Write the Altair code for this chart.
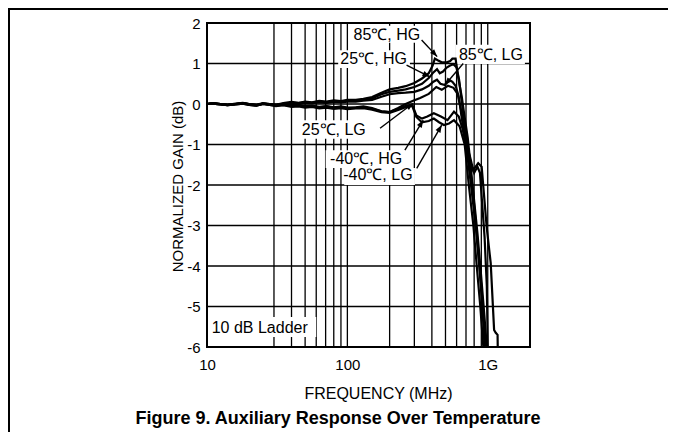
import math
import altair as alt
import pandas as pd

# ---------------- data ----------------
SERIES = ["85℃, HG", "25℃, HG", "85℃, LG", "25℃, LG", "-40℃, HG", "-40℃, LG"]

LOW_F = [10, 11, 12.5, 14, 16, 18, 20, 22.5, 25, 28, 31, 35, 40, 45, 50, 56, 63, 71, 80, 90, 100, 115, 130]

low_85hg = [0.0, 0.02, 0.0, -0.02, 0.01, 0.03, 0.0, -0.02, 0.02, 0.0, -0.02, 0.02, 0.05, 0.03, 0.06, 0.04, 0.08, 0.06, 0.09, 0.07, 0.1, 0.1, 0.13]
low_25hg = [0.0, 0.01, -0.01, -0.03, 0.0, 0.02, -0.01, -0.03, 0.01, -0.01, -0.03, 0.01, 0.03, 0.02, 0.04, 0.03, 0.06, 0.04, 0.07, 0.05, 0.08, 0.08, 0.11]
low_85lg = [0.0, 0.02, 0.0, -0.02, 0.0, 0.02, 0.0, -0.03, 0.01, 0.0, -0.02, 0.0, 0.02, 0.01, 0.03, 0.02, 0.04, 0.03, 0.05, 0.04, 0.06, 0.06, 0.08]
low_25lg = [0.0, 0.01, -0.01, -0.03, -0.01, 0.01, -0.02, -0.04, 0.0, -0.02, -0.04, -0.02, -0.05, -0.04, -0.07, -0.05, -0.08, -0.06, -0.09, -0.07, -0.1, -0.09, -0.08]
low_m40hg = [0.0, 0.02, 0.0, -0.02, 0.0, 0.02, -0.01, -0.03, 0.01, -0.01, -0.03, -0.01, -0.03, -0.02, -0.05, -0.04, -0.07, -0.05, -0.08, -0.06, -0.09, -0.08, -0.06]
low_m40lg = [0.0, 0.01, -0.01, -0.03, -0.01, 0.01, -0.02, -0.04, 0.0, -0.02, -0.05, -0.03, -0.07, -0.06, -0.09, -0.07, -0.11, -0.09, -0.12, -0.1, -0.13, -0.11, -0.1]

hf_85hg = [150, 175, 200, 230, 260, 300, 340, 380, 405, 420, 440, 470, 510, 540, 560, 590, 609, 654, 685, 720, 760, 800, 850, 900, 945, 965]
hg_85hg = [0.17, 0.28, 0.36, 0.4, 0.44, 0.52, 0.63, 0.76, 0.95, 1.12, 1.08, 1.03, 1.03, 1.06, 1.12, 1.12, 0.76, 0.16, -0.33, -0.83, -1.6, -2.5, -3.5, -4.5, -5.5, -6.0]

hf_25hg = [150, 175, 200, 230, 260, 300, 340, 380, 410, 435, 455, 480, 510, 540, 570, 600, 625, 650, 690, 730, 790, 845, 895, 945, 985]
hg_25hg = [0.14, 0.24, 0.3, 0.33, 0.36, 0.42, 0.5, 0.64, 0.78, 0.86, 0.76, 0.8, 0.9, 0.95, 0.98, 0.9, 0.6, 0.1, -0.6, -1.3, -2.2, -3.2, -4.2, -5.2, -6.0]

hf_85lg = [150, 175, 200, 230, 260, 300, 340, 380, 410, 435, 460, 495, 530, 560, 590, 620, 650, 690, 747, 788, 855, 905, 930, 982, 1050, 1110, 1140, 1175, 1178]
hg_85lg = [0.1, 0.18, 0.24, 0.27, 0.28, 0.3, 0.36, 0.45, 0.55, 0.6, 0.5, 0.47, 0.6, 0.55, 0.45, 0.2, -0.3, -0.9, -1.3, -1.63, -1.46, -1.55, -2.04, -3.03, -3.93, -5.58, -5.65, -5.7, -6.0]

hf_25lg = [150, 175, 200, 230, 260, 294, 330, 380, 430, 470, 520, 570, 610, 650, 700, 760, 800, 845, 880, 910, 950, 985, 1000]
hg_25lg = [-0.12, -0.18, -0.2, -0.1, 0.0, 0.08, 0.15, 0.25, 0.42, 0.35, 0.45, 0.4, 0.25, -0.2, -0.9, -1.5, -1.7, -1.55, -1.7, -2.4, -3.3, -4.5, -6.0]

hf_m40hg = [150, 175, 200, 230, 260, 290, 310, 340, 371, 413, 464, 517, 575, 622, 660, 700, 760, 820, 870, 915, 950]
hg_m40hg = [-0.1, -0.18, -0.2, -0.12, -0.05, -0.02, -0.28, -0.36, -0.31, -0.23, -0.31, -0.4, -0.19, -0.31, -0.6, -1.0, -2.0, -3.0, -4.0, -5.0, -6.0]

hf_m40lg = [150, 175, 200, 230, 260, 290, 310, 340, 380, 413, 450, 487, 530, 575, 630, 685, 733, 790, 835, 885, 930]
hg_m40lg = [-0.14, -0.2, -0.22, -0.15, -0.08, -0.05, -0.32, -0.45, -0.42, -0.36, -0.45, -0.52, -0.48, -0.4, -0.55, -1.0, -2.0, -3.0, -4.0, -5.0, -6.0]

# grid lines and ticks
V_GRID = [30, 40, 50, 60, 70, 80, 90, 100, 200, 300, 400, 500, 600, 700, 800, 900, 1000]
H_GRID = [-5, -4, -3, -2, -1, 0, 1]
X_TICKS = [10, 100, 1000]
Y_TICKS = [-6, -5, -4, -3, -2, -1, 0, 1, 2]

# annotation labels (data units)
LABELS = ["85℃, HG", "25℃, HG", "85℃, LG", "25℃, LG", "-40℃, HG", "-40℃, LG"]
LABEL_F = [191, 154, 1054, 80, 136, 165]
LABEL_G = [1.70, 1.10, 1.22, -0.63, -1.35, -1.765]
BOX_F1 = [104, 86, 594, 46, 70, 95]
BOX_F2 = [345, 279, 1840, 140, 257, 303]
BOX_G1 = [1.93, 1.33, 1.46, -0.40, -1.14, -1.58]
BOX_G2 = [1.51, 0.89, 0.99, -0.86, -1.58, -2.00]
ARROW_F1 = [338, 264, 669, 171, 257, 312]
ARROW_G1 = [1.58, 0.96, 1.0, -0.6, -1.14, -1.59]
ARROW_F2 = [436, 387, 495, 294, 347, 470]
ARROW_G2 = [1.17, 0.67, 0.47, 0.02, -0.40, -0.52]

NOTE = "10 dB Ladder"
NOTE_F, NOTE_G = 10.8, -5.52
NOTE_BOX = (10.3, 60, -5.26, -5.75)

# ---------------- layout ----------------
W, H = 323, 324
FONT = "Liberation Sans"

low = [low_85hg, low_25hg, low_85lg, low_25lg, low_m40hg, low_m40lg]
hfs = [hf_85hg, hf_25hg, hf_85lg, hf_25lg, hf_m40hg, hf_m40lg]
hgs = [hg_85hg, hg_25hg, hg_85lg, hg_25lg, hg_m40hg, hg_m40lg]

rows = []
for name, lg, hf, hg in zip(SERIES, low, hfs, hgs):
    fs = LOW_F + hf
    gs = lg + hg
    for i, (f, g) in enumerate(zip(fs, gs)):
        rows.append({"series": name, "freq": f, "gain": g, "idx": i})
curves = pd.DataFrame(rows)

xs = alt.Scale(type="log", domain=[10, 2000])
ys = alt.Scale(domain=[-6, 2])

def px(f):
    return W * math.log10(f / 10) / math.log10(200)

def py(g):
    return H * (2 - g) / 8

angles = []
for f1, g1, f2, g2 in zip(ARROW_F1, ARROW_G1, ARROW_F2, ARROW_G2):
    dx = px(f2) - px(f1)
    dy = py(g2) - py(g1)
    angles.append(math.degrees(math.atan2(dx, -dy)) % 360)

arrows = pd.DataFrame({"f1": ARROW_F1, "g1": ARROW_G1, "f2": ARROW_F2, "g2": ARROW_G2, "ang": angles})
boxes = pd.DataFrame({"f1": BOX_F1 + [NOTE_BOX[0]], "f2": BOX_F2 + [NOTE_BOX[1]],
                      "g1": BOX_G1 + [NOTE_BOX[2]], "g2": BOX_G2 + [NOTE_BOX[3]]})
labels = pd.DataFrame({"t": LABELS, "f": LABEL_F, "g": LABEL_G})
note = pd.DataFrame({"t": [NOTE], "f": [NOTE_F], "g": [NOTE_G]})

base_x_axis = alt.Axis(values=X_TICKS, labelExpr="datum.value == 1000 ? '1G' : '' + datum.value",
                       grid=False, ticks=False, domain=False, labelFlush=False,
                       labelFontSize=15, labelColor="black", labelPadding=10,
                       title="FREQUENCY (MHz)", titleFontSize=16, titleFontWeight="normal",
                       titleColor="black", titleX=171, titleY=51, titleBaseline="alphabetic",
                       titleAlign="center")
base_y_axis = alt.Axis(values=Y_TICKS, labelExpr="'' + datum.value",
                       grid=False, ticks=False, domain=False, labelFlush=False,
                       labelFontSize=15, labelColor="black", labelPadding=7,
                       title="NORMALIZED GAIN (dB)", titleFontSize=15, titleFontWeight="normal",
                       titleColor="black", titleX=-25, titleY=163, titleAngle=270,
                       titleBaseline="alphabetic", titleAlign="center")

vgrid = alt.Chart(pd.DataFrame({"f": V_GRID})).mark_rule(color="black", strokeWidth=1.3).encode(
    x=alt.X("f:Q", scale=xs, axis=base_x_axis))
hgrid = alt.Chart(pd.DataFrame({"g": H_GRID})).mark_rule(color="black", strokeWidth=1.3).encode(
    y=alt.Y("g:Q", scale=ys, axis=base_y_axis))

box_layer = alt.Chart(boxes).mark_rect(fill="white").encode(
    x=alt.X("f1:Q", scale=xs), x2="f2:Q", y=alt.Y("g1:Q", scale=ys), y2="g2:Q")

lines = alt.Chart(curves).mark_line(color="black", strokeWidth=2.2, clip=True).encode(
    x=alt.X("freq:Q", scale=xs), y=alt.Y("gain:Q", scale=ys),
    detail="series:N", order="idx:Q")

arrow_lines = alt.Chart(arrows).mark_rule(color="black", strokeWidth=1.4).encode(
    x=alt.X("f1:Q", scale=xs), y=alt.Y("g1:Q", scale=ys), x2="f2:Q", y2="g2:Q")
arrow_heads = alt.Chart(arrows).mark_point(
    shape="M0,0 L-0.38,1 L0.38,1 Z", filled=True, color="black", size=220, opacity=1).encode(
    x=alt.X("f2:Q", scale=xs), y=alt.Y("g2:Q", scale=ys), angle=alt.Angle("ang:Q", scale=None))

label_text = alt.Chart(labels).mark_text(font=FONT, fontSize=16, color="black",
                                         align="center", baseline="middle").encode(
    x=alt.X("f:Q", scale=xs), y=alt.Y("g:Q", scale=ys), text="t:N")
note_text = alt.Chart(note).mark_text(font=FONT, fontSize=16, color="black",
                                      align="left", baseline="middle").encode(
    x=alt.X("f:Q", scale=xs), y=alt.Y("g:Q", scale=ys), text="t:N")

one = pd.DataFrame({"a": [0]})
frame_left = alt.Chart(one).mark_rule(color="black", strokeWidth=2).encode(
    x=alt.value(-198), x2=alt.value(-198), y=alt.value(-14), y2=alt.value(420))
frame_top = alt.Chart(one).mark_rule(color="black", strokeWidth=2).encode(
    y=alt.value(-14), y2=alt.value(-14), x=alt.value(-199), x2=alt.value(470))
fig_title = alt.Chart(one).mark_text(font=FONT, fontSize=18, fontWeight="bold", color="black",
                                     align="center", baseline="alphabetic").encode(
    x=alt.value(131), y=alt.value(401),
    text=alt.value("Figure 9. Auxiliary Response Over Temperature"))

chart = alt.layer(vgrid, hgrid, box_layer, lines, arrow_lines, arrow_heads, label_text, note_text,
                  frame_left, frame_top, fig_title).properties(
    width=W, height=H,
    autosize=alt.AutoSizeParams(type="none"),
    padding={"left": 199, "top": 15, "right": 138, "bottom": 85},
).configure(font=FONT).configure_view(stroke="black", strokeWidth=2)

chart.save("out.html", embed_options={"renderer": "svg", "actions": False})
